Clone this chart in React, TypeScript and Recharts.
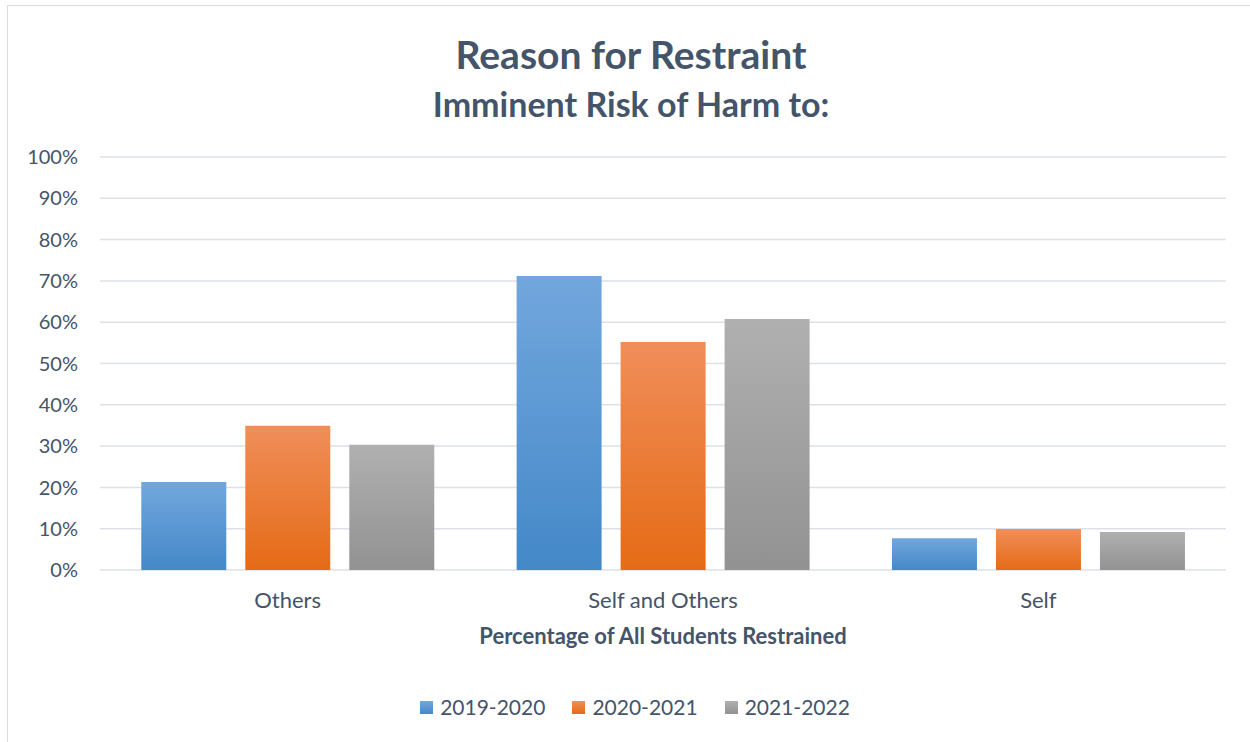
import React from "react";
import {
  BarChart,
  Bar,
  XAxis,
  YAxis,
  CartesianGrid,
  Label,
} from "recharts";

const CATEGORIES = ["Others", "Self and Others", "Self"];
const Y2019 = [21.3, 71.2, 7.7];
const Y2020 = [34.9, 55.2, 9.9];
const Y2021 = [30.3, 60.8, 9.2];
const Y_TICKS = [0, 10, 20, 30, 40, 50, 60, 70, 80, 90, 100];

const SERIES = [
  { key: "y2019", name: "2019-2020", top: "#72a7dd", bottom: "#4488c8" },
  { key: "y2020", name: "2020-2021", top: "#f08e5a", bottom: "#e56b16" },
  { key: "y2021", name: "2021-2022", top: "#b0b0b0", bottom: "#929292" },
];

const TEXT = "#44546a";
const FONT = "Lato, 'Open Sans', sans-serif";

const data = CATEGORIES.map((name, i) => ({
  name,
  y2019: Y2019[i],
  y2020: Y2020[i],
  y2021: Y2021[i],
}));

export default function App() {
  return (
    <div
      style={{
        position: "absolute",
        left: 0,
        top: 0,
        width: 1250,
        height: 742,
        overflow: "hidden",
        background: "#fff",
        fontFamily: FONT,
      }}
    >
      {/* outer chart frame */}
      <div
        style={{
          position: "absolute",
          left: 7,
          top: 5,
          width: 1260,
          height: 760,
          border: "1px solid #d9dde3",
        }}
      />
      <div
        style={{
          position: "absolute",
          top: 29,
          left: 0,
          width: 1262,
          textAlign: "center",
          color: TEXT,
          fontWeight: 700,
          fontSize: 39,
          lineHeight: "50px",
        }}
      >
        Reason for Restraint
      </div>
      <div
        style={{
          position: "absolute",
          top: 82,
          left: 0,
          width: 1262,
          textAlign: "center",
          color: TEXT,
          fontWeight: 700,
          fontSize: 34,
          lineHeight: "44px",
        }}
      >
        Imminent Risk of Harm to:
      </div>

      <div style={{ position: "absolute", left: 0, top: 0 }}>
        <BarChart
          width={1250}
          height={742}
          data={data}
          margin={{ top: 157, right: 24, bottom: 92, left: 8 }}
          barCategoryGap="11%"
          barGap={19}
        >
          <defs>
            {SERIES.map((s) => (
              <linearGradient key={s.key} id={`g-${s.key}`} x1="0" y1="0" x2="0" y2="1">
                <stop offset="0%" stopColor={s.top} />
                <stop offset="100%" stopColor={s.bottom} />
              </linearGradient>
            ))}
          </defs>
          <CartesianGrid vertical={false} stroke="#dde1e7" strokeWidth={1.5} />
          <XAxis
            dataKey="name"
            axisLine={false}
            tickLine={false}
            tickSize={0}
            tickMargin={22}
            height={80}
            tick={{ fontSize: 22, fill: TEXT, fontFamily: FONT }}
          >
            <Label
              value="Percentage of All Students Restrained"
              position="insideBottom"
              offset={6}
              style={{ fontSize: 22, fontWeight: 700, fill: TEXT, fontFamily: FONT }}
            />
          </XAxis>
          <YAxis
            domain={[0, 100]}
            ticks={Y_TICKS}
            interval={0}
            width={92}
            axisLine={false}
            tickLine={false}
            tickSize={0}
            tickMargin={22}
            tickFormatter={(v) => `${v}%`}
            tick={{ fontSize: 20, fill: TEXT, fontFamily: FONT }}
          />
          {SERIES.map((s) => (
            <Bar
              key={s.key}
              dataKey={s.key}
              name={s.name}
              fill={`url(#g-${s.key})`}
              isAnimationActive={false}
            />
          ))}
        </BarChart>
      </div>

      {/* legend */}
      <div
        style={{
          position: "absolute",
          top: 694,
          left: 0,
          width: 1270,
          display: "flex",
          justifyContent: "center",
          gap: 27,
          color: TEXT,
          fontSize: 21,
          lineHeight: "26px",
        }}
      >
        {SERIES.map((s) => (
          <div key={s.key} style={{ display: "flex", alignItems: "center", gap: 7 }}>
            <div
              style={{
                width: 13,
                height: 13,
                background: `linear-gradient(${s.top}, ${s.bottom})`,
              }}
            />
            <span>{s.name}</span>
          </div>
        ))}
      </div>
    </div>
  );
}
